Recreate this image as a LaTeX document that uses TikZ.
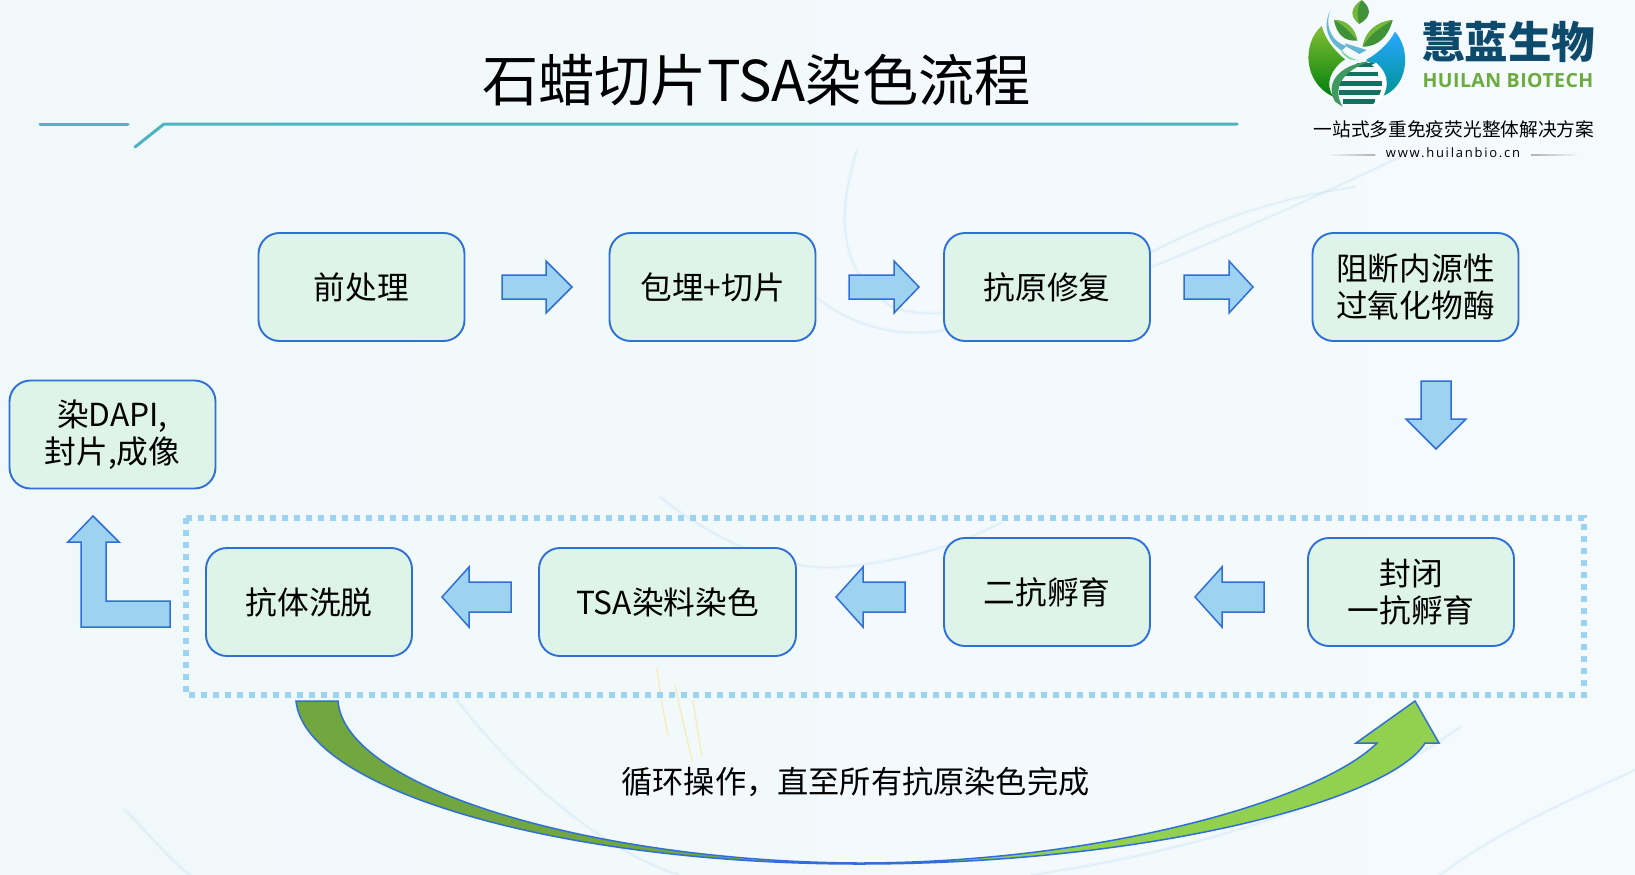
\documentclass[tikz,border=0pt]{standalone}
\usepackage{fontspec}
\setmainfont{Noto Sans CJK SC}
\newfontfamily\latinb[LetterSpace=2.2]{Open Sans}
\newfontfamily\urlfont[LetterSpace=13.5]{Open Sans}
\usetikzlibrary{calc}
\definecolor{bgA}{HTML}{F0F8FA}
\definecolor{bgB}{HTML}{F5FAFD}
\definecolor{boxfill}{HTML}{DFF4E9}
\definecolor{edge}{HTML}{2F6FD8}
\definecolor{arrowfill}{HTML}{9DD3F0}
\definecolor{titleline}{HTML}{4DB3C0}
\definecolor{swoosh}{HTML}{BFE0F4}
\definecolor{logoblue}{HTML}{0E4A6C}
\definecolor{logogreen}{HTML}{6CAB3E}
\definecolor{leaflight}{HTML}{74B83A}
\definecolor{leafdark}{HTML}{3F9238}
\definecolor{stripe}{HTML}{14705F}
\definecolor{loopdark}{HTML}{72A63E}
\definecolor{looplight}{HTML}{92D050}
\tikzset{
  stepbox/.style={draw=edge,fill=boxfill,line width=1.9pt,rounded corners=21pt,minimum width=206pt,minimum height=108pt,inner sep=0pt,align=center,font=\fontsize{31.7}{37.5}\selectfont},
  barrow/.style={draw=edge,fill=arrowfill,line width=1.5pt,line join=miter},
  tline/.style={draw=titleline,line width=3pt,line cap=round,line join=round},
  faint/.style={draw=swoosh,line width=4pt,opacity=.1,line cap=round},
  fainter/.style={draw=swoosh,line width=1.2pt,opacity=.35,line cap=round},
  glow/.style={draw=orange!40!yellow,line width=1.4pt,opacity=.25}
}
\begin{document}
\begin{tikzpicture}[x=1pt,y=-1pt]
\useasboundingbox (0,0) rectangle (1635,875);
\shade[left color=bgA,right color=bgB] (0,0) rectangle (1635,875);
% faint background swooshes
\foreach \st in {faint,fainter}{
  \draw[\st] (857,150) .. controls (838,210) and (835,270) .. (892,307) .. controls (905,312) and (925,314) .. (943,313);
  \draw[\st] (817,298) .. controls (845,320) and (890,340) .. (945,330);
  \draw[\st] (1152,252) .. controls (1190,232) and (1260,200) .. (1355,187);
  \draw[\st] (1152,267) .. controls (1230,235) and (1320,195) .. (1400,157);
  \draw[\st] (660,497) .. controls (720,545) and (790,572) .. (840,567) .. controls (900,562) and (960,545) .. (1000,523);
  \draw[\st] (457,700) .. controls (510,770) and (600,850) .. (679,875);
  \draw[\st] (125,810) .. controls (150,835) and (170,860) .. (190,875);
  \draw[\st] (1032,875) .. controls (1200,850) and (1360,800) .. (1460,727);
  \draw[\st] (1440,875) .. controls (1500,830) and (1570,800) .. (1635,770);
}
\draw[glow] (657,668) .. controls (660,695) and (664,715) .. (668,735);
\draw[glow] (675,685) .. controls (680,710) and (685,730) .. (692,760);
\draw[glow] (693,700) .. controls (696,720) and (699,740) .. (702,756);

% title
\node[font=\fontsize{56.2}{60}\selectfont,inner sep=0pt] (title) at (756.5,80) {石蜡切片TSA染色流程};
\draw[tline] (40,124) -- (128,124);
\draw[tline] (135,147) -- (164,124) -- (1237,124);

% logo
\begin{scope}[shift={(1300,0)},x=1/3*1pt,y=-1/3*1pt]
  \shade[top color=leaflight!90!yellow,bottom color=green!50!black!90!teal]
    (65,78) .. controls (5,130) and (10,250) .. (100,290) .. controls (72,250) and (95,205) .. (135,178) .. controls (100,150) and (75,115) .. (65,78) -- cycle;
  \shade[top color=cyan!60!blue!85!white,bottom color=teal!65!cyan!85!black]
    (285,95) .. controls (335,150) and (325,265) .. (242,290) .. controls (262,245) and (245,210) .. (198,180) .. controls (225,165) and (265,135) .. (285,95) -- cycle;
  \fill[color=cyan!55!teal!70!white] (92,30) .. controls (70,80) and (100,130) .. (140,138) -- (125,152) .. controls (85,125) and (65,80) .. (92,30) -- cycle;
  \fill[color=cyan!55!teal!70!white] (135,130) -- (200,150) -- (178,162) -- (140,140) -- cycle;
  \fill[color=green!40!teal!55!white] (120,145) .. controls (135,165) and (150,175) .. (178,182) -- (150,178) .. controls (135,170) and (125,160) .. (120,145) -- cycle;
  \foreach \ya/\xa/\xb in {188/170/222,215/135/235,243/118/245,270/118/250,297/130/225}
    \fill[color=stripe] (\xa,\ya) -- (\xb,\ya) -- (\xb,\ya+14) -- (\xa,\ya+14) -- cycle;
  \fill[color=green!45!black!65!teal!75!white] (218,182) .. controls (130,190) and (70,240) .. (105,305) -- (128,320) .. controls (95,265) and (125,210) .. (218,182) -- cycle;
  \fill[color=white] (215,195) .. controls (260,225) and (255,275) .. (215,318) -- (228,318) .. controls (272,270) and (270,225) .. (228,188) -- cycle;
  \fill[color=leafdark] (185,0) .. controls (150,25) and (150,50) .. (178,72) .. controls (215,50) and (215,25) .. (185,0) -- cycle;
  \fill[color=leaflight] (185,0) .. controls (150,25) and (150,50) .. (178,72) .. controls (170,45) and (170,25) .. (185,0) -- cycle;
  \fill[color=leafdark] (102,60) .. controls (110,105) and (135,125) .. (172,122) .. controls (165,85) and (140,60) .. (102,60) -- cycle;
  \fill[color=leaflight] (102,60) .. controls (140,60) and (165,85) .. (172,122) .. controls (150,95) and (130,75) .. (102,60) -- cycle;
  \fill[color=leafdark] (278,60) .. controls (265,110) and (235,140) .. (188,140) .. controls (195,95) and (230,65) .. (278,60) -- cycle;
  \fill[color=leaflight] (278,60) .. controls (230,65) and (195,95) .. (188,140) .. controls (210,100) and (245,80) .. (278,60) -- cycle;
\end{scope}
\node[font=\fontsize{43.5}{46}\selectfont\bfseries,text=logoblue,inner sep=0pt] (brand) at (1508,42) {慧蓝生物};
\node[font=\latinb\fontsize{19.5}{22}\selectfont\bfseries,text=logogreen,inner sep=0pt] (brandlat) at (1508,81) {HUILAN BIOTECH};
\node[font=\fontsize{18.7}{22}\selectfont,inner sep=0pt] (slogan) at (1454,129) {一站式多重免疫荧光整体解决方案};
\node[font=\urlfont\fontsize{13}{16}\selectfont,inner sep=0pt] (url) at (1453,153) {www.huilanbio.cn};
\shade[left color=bgB,right color=black!30] (1325,154.6) rectangle (1375,155.6);
\shade[left color=black!30,right color=bgB] (1531,154.6) rectangle (1580,155.6);

% dotted loop frame
\draw[draw=arrowfill,line width=6pt,dash pattern=on 6pt off 6pt] (186,518) rectangle (1584,695);

% steps
\node[stepbox] (s1) at (361.5,287) {前处理};
\node[stepbox] (s2) at (712.5,287) {包埋+切片};
\node[stepbox] (s3) at (1047,287) {抗原修复};
\node[stepbox] (s4) at (1415.5,287) {阻断内源性\\过氧化物酶};
\node[stepbox] (s5) at (1411,592) {封闭\\一抗孵育};
\node[stepbox] (s6) at (1047,592) {二抗孵育};
\node[stepbox,minimum width=257pt] (s7) at (667.5,602) {TSA染料染色};
\node[stepbox] (s8) at (309,602) {抗体洗脱};
\node[stepbox] (s9) at (112.5,434.5) {染DAPI,\\封片,成像};

% block arrows between steps
\draw[barrow] (502,275) -- (546,275) -- (546,261) -- (572,287) -- (546,313) -- (546,299) -- (502,299) -- cycle;
\draw[barrow] (849,275) -- (894,275) -- (894,261) -- (919,287) -- (894,313) -- (894,299) -- (849,299) -- cycle;
\draw[barrow] (1184,275) -- (1229,275) -- (1229,261) -- (1253,287) -- (1229,313) -- (1229,299) -- (1184,299) -- cycle;
\draw[barrow] (1421,381) -- (1451,381) -- (1451,419) -- (1466,419) -- (1436,449) -- (1406,419) -- (1421,419) -- cycle;
\draw[barrow] (1264,582) -- (1222,582) -- (1222,567) -- (1195,597) -- (1222,627) -- (1222,612) -- (1264,612) -- cycle;
\draw[barrow] (905,582) -- (863,582) -- (863,567) -- (836,597) -- (863,627) -- (863,612) -- (905,612) -- cycle;
\draw[barrow] (511,582) -- (469,582) -- (469,567) -- (442,597) -- (469,627) -- (469,612) -- (511,612) -- cycle;
\draw[barrow] (170,627) -- (81,627) -- (81,542) -- (68,542) -- (93,516) -- (119,542) -- (106,542) -- (106,601) -- (170,601) -- cycle;

% loop arrow
\fill[color=loopdark] (296,701) .. controls (305,790) and (560,864) .. (859,864) .. controls (600,862) and (345,790) .. (338,701) -- cycle;
\fill[color=looplight] (859,864) .. controls (1150,864) and (1390,800) .. (1425,743) -- (1439,743) -- (1415,701) -- (1356,743) -- (1377,743) .. controls (1320,800) and (1100,863) .. (859,863) -- cycle;
\draw[edge,line width=1.5pt,line join=miter] (296,701) .. controls (305,790) and (560,864) .. (859,864) .. controls (1150,864) and (1390,800) .. (1425,743) -- (1439,743) -- (1415,701) -- (1356,743) -- (1377,743) .. controls (1320,800) and (1100,863) .. (859,863) .. controls (600,862) and (345,790) .. (338,701) -- cycle;
\node[font=\fontsize{31.2}{37}\selectfont,inner sep=0pt] (looptext) at (855.5,781.5) {循环操作，直至所有抗原染色完成};
\end{tikzpicture}
\end{document}
